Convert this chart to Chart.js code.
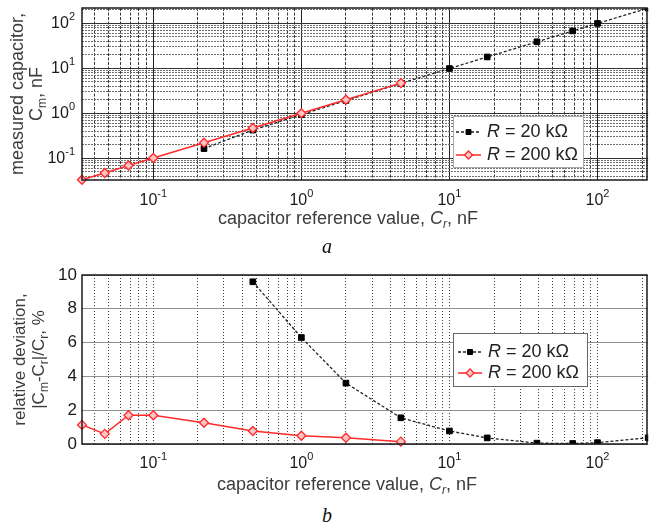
<!DOCTYPE html>
<html>
<head>
<meta charset="utf-8">
<script src="https://cdn.jsdelivr.net/npm/chart.js@4.4.1/dist/chart.umd.min.js"></script>
<style>
  html, body { margin: 0; padding: 0; background: #fff; }
  body { width: 654px; height: 526px; position: relative; overflow: hidden; }
  .wrap { position: absolute; left: 0; width: 654px; }
  #wrapA { top: 0; height: 240px; }
  #wrapB { top: 250px; height: 250px; }
  .cap { position: absolute; left: 307px; width: 40px; text-align: center; line-height: 20px;
         font-family: "Liberation Serif", "DejaVu Serif", serif; font-style: italic; font-size: 20px; color: #111; }
</style>
</head>
<body>
<div class="wrap" id="wrapA"><canvas id="chartA"></canvas></div>
<div class="cap" style="top:236px">a</div>
<div class="wrap" id="wrapB"><canvas id="chartB"></canvas></div>
<div class="cap" style="top:505px">b</div>

<script>
// Values
const xDecades = [0.1, 1, 10, 100];
const xDecadeExps = ['-1', '0', '1', '2'];
const yDecades = [0.1, 1, 10, 100];
const yDecadeExps = ['-1', '0', '1', '2'];
const devTicks = [0, 2, 4, 6, 8, 10];

// R = 20 kOhm
const ref20 = [0.22, 0.47, 1, 2, 4.7, 10, 18, 39, 68, 100, 220];
const meas20 = [0.165, 0.425, 0.937, 1.93, 4.63, 9.92, 17.94, 38.98, 67.98, 99.9, 219.2];
const devRef20 = [0.47, 1, 2, 4.7, 10, 18, 39, 68, 100, 220];
const dev20 = [9.6, 6.3, 3.6, 1.55, 0.77, 0.36, 0.05, 0.03, 0.08, 0.37];

// R = 200 kOhm
const ref200 = [0.033, 0.047, 0.068, 0.1, 0.22, 0.47, 1, 2, 4.7];
const meas200 = [0.0334, 0.0473, 0.0692, 0.1017, 0.2228, 0.4736, 1.005, 2.007, 4.707];
const dev200 = [1.13, 0.6, 1.7, 1.7, 1.26, 0.77, 0.49, 0.37, 0.14];

const FONT = '"Liberation Sans", Arial, sans-serif';
const RED = '#ff2a2a';

// text with italic / sub / superscript pieces
function fontFor(p, size) {
  const s = (p.sub || p.sup) ? Math.round(size * 0.68) : size;
  return (p.i ? 'italic ' : '') + s + 'px ' + FONT;
}

function drawRich(ctx, parts, x, y, size, color, align) {
  let total = 0;
  parts.forEach(p => { ctx.font = fontFor(p, size); total += ctx.measureText(p.t).width; });
  let cx = align === 'right' ? x - total : align === 'left' ? x : x - total / 2;
  ctx.fillStyle = color;
  ctx.textAlign = 'left';
  ctx.textBaseline = 'middle';
  parts.forEach(p => {
    ctx.font = fontFor(p, size);
    const dy = p.sub ? size * 0.32 : p.sup ? -size * 0.42 : 0;
    ctx.fillText(p.t, cx, y + dy);
    cx += ctx.measureText(p.t).width;
  });
}

function logTicks(scale) {
  const ticks = [];
  for (let e = -2; e <= 2; e++) {
    for (let m = 1; m <= 9; m++) {
      const v = m * Math.pow(10, e);
      if (v >= scale.min && v <= scale.max) ticks.push({ value: v, major: m === 1 });
    }
  }
  scale.ticks = ticks;
}

const isMajor = c => c.tick && c.tick.major;

const figurePlugin = {
  id: 'figure',
  afterDraw(chart, args, o) {
    const ctx = chart.ctx;
    const area = chart.chartArea;
    const xs = chart.scales.x, ys = chart.scales.y;
    ctx.save();

    // frame
    ctx.strokeStyle = '#1a1a1a';
    ctx.lineWidth = 1.5;
    ctx.setLineDash([]);
    ctx.strokeRect(Math.round(area.left), Math.round(area.top),
      Math.round(area.right - area.left) - 1, Math.round(area.bottom - area.top));

    // decade labels
    xDecades.forEach((v, i) => {
      drawRich(ctx, [{ t: '10' }, { t: xDecadeExps[i], sup: true }], xs.getPixelForValue(v), o.xLabelY, 16, '#1a1a1a', 'center');
    });
    if (o.logY) {
      yDecades.forEach((v, i) => {
        drawRich(ctx, [{ t: '10' }, { t: yDecadeExps[i], sup: true }], area.left - 7, ys.getPixelForValue(v), 16, '#1a1a1a', 'right');
      });
    }

    // legend
    const L = o.legend;
    ctx.lineWidth = 1;
    ctx.fillStyle = '#fff';
    ctx.fillRect(L.x, L.y, L.w, L.h);
    ctx.strokeStyle = L.border;
    ctx.strokeRect(L.x + 0.5, L.y + 0.5, L.w, L.h);
    o.legendOrder.forEach((di, row) => {
      const ds = chart.data.datasets[di];
      const y = L.rows[row];
      ctx.strokeStyle = ds.borderColor;
      ctx.lineWidth = ds.borderWidth;
      ctx.setLineDash(ds.borderDash || []);
      ctx.beginPath();
      ctx.moveTo(L.sampleX[0], y);
      ctx.lineTo(L.sampleX[1], y);
      ctx.stroke();
      ctx.setLineDash([]);
      ctx.fillStyle = ds.pointBackgroundColor;
      ctx.strokeStyle = ds.pointBorderColor;
      ctx.lineWidth = ds.pointBorderWidth;
      Chart.helpers.drawPoint(ctx, { pointStyle: ds.pointStyle, radius: ds.pointRadius - 0.5, borderWidth: ds.pointBorderWidth, rotation: 0 },
        (L.sampleX[0] + L.sampleX[1]) / 2, y);
      drawRich(ctx, o.legendLabels[row], L.textX, y, 18, '#222', 'left');
    });

    // axis titles
    drawRich(ctx, o.xTitle, o.xTitleX, o.xTitleY, 18, '#3c3c3c', 'center');
    const yc = (area.top + area.bottom) / 2;
    o.yTitle.forEach((parts, i) => {
      ctx.save();
      ctx.translate(o.yTitleX[i], yc);
      ctx.rotate(-Math.PI / 2);
      drawRich(ctx, parts, 0, 0, o.yTitleSize, '#3c3c3c', 'center');
      ctx.restore();
    });
    ctx.restore();
  }
};

function redSet(data) {
  return {
    label: 'R = 200 kΩ', data, clip: false,
    borderColor: RED, borderWidth: 1.5,
    pointStyle: 'rectRot', pointRadius: 4.5, pointBorderWidth: 1.3,
    pointBorderColor: RED, pointBackgroundColor: '#ffc4c4', tension: 0
  };
}

function blackSet(data) {
  return {
    label: 'R = 20 kΩ', data,
    borderColor: '#222', borderWidth: 1.3, borderDash: [3, 2],
    pointStyle: 'rect', pointRadius: 4, pointBorderWidth: 1,
    pointBorderColor: '#000', pointBackgroundColor: '#000', tension: 0
  };
}

const xTitle = [{ t: 'capacitor reference value, ' }, { t: 'C', i: true }, { t: 'r', i: true, sub: true }, { t: ', nF' }];
const legendLabels = [[{ t: 'R', i: true }, { t: ' = 20 kΩ' }], [{ t: 'R', i: true }, { t: ' = 200 kΩ' }]];

const base = {
  responsive: true,
  maintainAspectRatio: false,
  animation: false,
  events: []
};

// a: measured vs reference, log-log
new Chart(document.getElementById('chartA'), {
  type: 'line',
  data: {
    datasets: [
      redSet(ref200.map((x, i) => ({ x, y: meas200[i] }))),
      blackSet(ref20.map((x, i) => ({ x, y: meas20[i] })))
    ]
  },
  options: {
    ...base,
    layout: { padding: { top: 8, right: 2, left: 0, bottom: 0 } },
    scales: {
      x: {
        type: 'logarithmic', min: 0.033, max: 220,
        afterBuildTicks: logTicks,
        afterFit: s => { s.height = 60; },
        ticks: { display: false },
        grid: { drawTicks: false, lineWidth: 1, color: c => isMajor(c) ? '#222' : '#3a3a3a' },
        border: { display: false, dash: c => isMajor(c) ? [] : [3, 1.5] }
      },
      y: {
        type: 'logarithmic', min: 0.033, max: 220,
        afterBuildTicks: logTicks,
        afterFit: s => { s.width = 82; },
        ticks: { display: false },
        grid: { drawTicks: false, lineWidth: 1, color: c => isMajor(c) ? '#333' : '#707070' },
        border: { display: false, dash: c => isMajor(c) ? [] : [2, 1] }
      }
    },
    plugins: {
      legend: { display: false },
      tooltip: { enabled: false },
      figure: {
        logY: true,
        xLabelY: 201,
        xTitle, xTitleX: 348, xTitleY: 219,
        yTitle: [[{ t: 'measured capacitor,' }], [{ t: 'C' }, { t: 'm', sub: true }, { t: ', nF' }]],
        yTitleX: [18, 37], yTitleSize: 18,
        legend: { x: 453, y: 116, w: 130, h: 51, rows: [132, 155], sampleX: [456, 481], textX: 487, border: '#aaa' },
        legendOrder: [1, 0], legendLabels
      }
    }
  },
  plugins: [figurePlugin]
});

// b: relative deviation
new Chart(document.getElementById('chartB'), {
  type: 'line',
  data: {
    datasets: [
      redSet(ref200.map((x, i) => ({ x, y: dev200[i] }))),
      blackSet(devRef20.map((x, i) => ({ x, y: dev20[i] })))
    ]
  },
  options: {
    ...base,
    layout: { padding: { top: 25, right: 2, left: 0, bottom: 0 } },
    scales: {
      x: {
        type: 'logarithmic', min: 0.033, max: 220,
        afterBuildTicks: logTicks,
        afterFit: s => { s.height = 56; },
        ticks: { display: false },
        grid: { drawTicks: false, lineWidth: 1, color: '#3a3a3a' },
        border: { display: false, dash: [1, 2] }
      },
      y: {
        type: 'linear', min: 0, max: 10,
        afterBuildTicks: s => { s.ticks = devTicks.map(v => ({ value: v })); },
        afterFit: s => { s.width = 82; },
        ticks: { color: '#1a1a1a', padding: 5, font: { size: 17, family: FONT } },
        grid: { drawTicks: false, lineWidth: 1, color: '#8f8f8f' },
        border: { display: false }
      }
    },
    plugins: {
      legend: { display: false },
      tooltip: { enabled: false },
      figure: {
        logY: false,
        xLabelY: 214,
        xTitle, xTitleX: 347, xTitleY: 235,
        yTitle: [[{ t: 'relative deviation,' }],
          [{ t: '|C' }, { t: 'm', sub: true }, { t: '-C' }, { t: 'r', sub: true }, { t: '|/C' }, { t: 'r', sub: true }, { t: ', %' }]],
        yTitleX: [20, 39], yTitleSize: 17,
        legend: { x: 453, y: 83, w: 134, h: 53, rows: [102, 123], sampleX: [458, 482], textX: 488, border: '#666' },
        legendOrder: [1, 0], legendLabels
      }
    }
  },
  plugins: [figurePlugin]
});
</script>
</body>
</html>
